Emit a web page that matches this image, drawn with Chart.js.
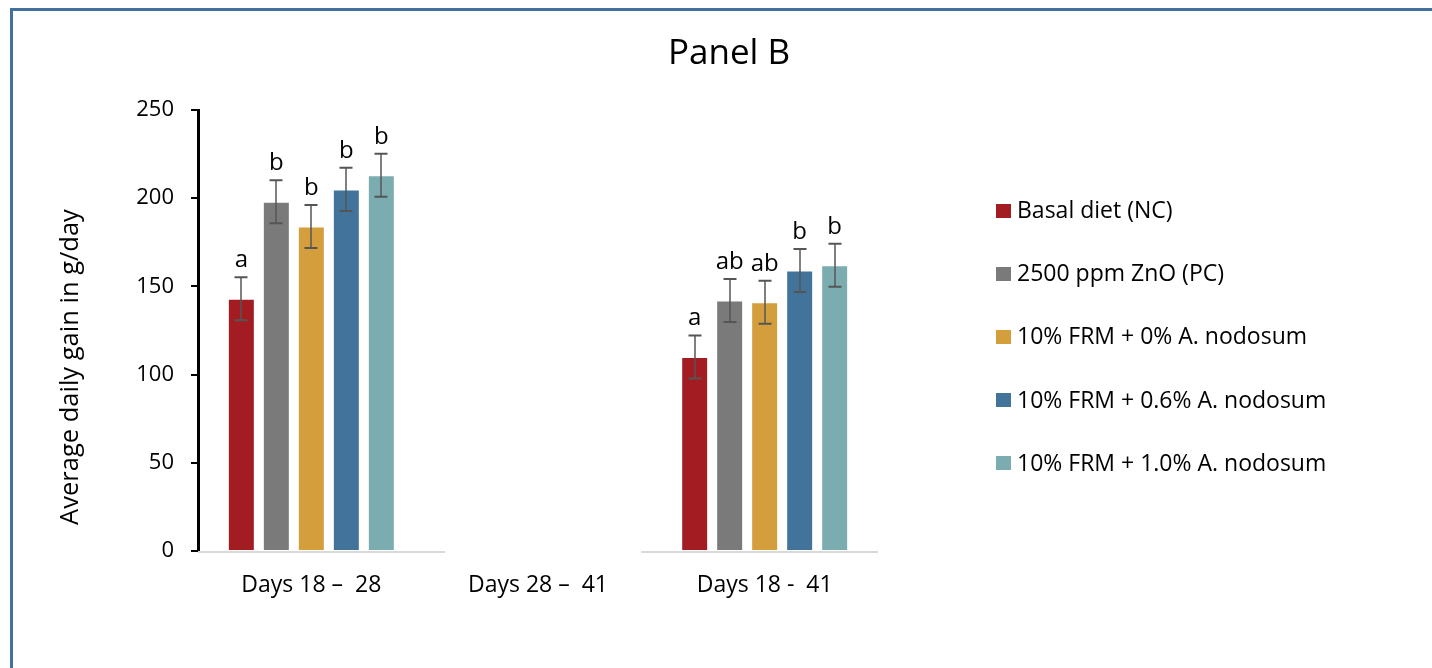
<!DOCTYPE html>
<html>
<head>
<meta charset="utf-8">
<title>Panel B – Average daily gain</title>
<script src="https://cdn.jsdelivr.net/npm/chart.js@4/dist/chart.umd.min.js"></script>
<style>
  html, body { margin: 0; padding: 0; background: #fff; overflow: hidden; }
  #frame {
    position: absolute; left: 10px; top: 8px; width: 1460px; height: 700px;
    border: 3px solid #41719C; box-sizing: border-box;
  }
  #wrap { position: absolute; left: 0; top: 0; width: 1432px; height: 668px; }
</style>
</head>
<body>
<div id="frame"></div>
<div id="wrap"><canvas id="c" width="1432" height="668"></canvas></div>
<script>
// Periods on the category axis
const periods = ['Days 18 \u2013  28', 'Days 28 \u2013  41', 'Days 18 -  41'];

// Treatment names
const treatments = [
  'Basal diet (NC)',
  '2500 ppm ZnO (PC)',
  '10% FRM + 0% A. nodosum',
  '10% FRM + 0.6% A. nodosum',
  '10% FRM + 1.0% A. nodosum'
];

// Average daily gain (g/day) per period
const adgBasal = [143, null, 110];
const adgZnO   = [198, null, 142];
const adgFrm0  = [184, null, 141];
const adgFrm06 = [205, null, 159];
const adgFrm10 = [213, null, 162];

// Standard errors per period
const semBasal = [12.2, null, 12.2];
const semZnO   = [12.2, null, 12.2];
const semFrm0  = [12.2, null, 12.2];
const semFrm06 = [12.2, null, 12.2];
const semFrm10 = [12.2, null, 12.2];

// Significance letters per period
const letBasal = ['a', '', 'a'];
const letZnO   = ['b', '', 'ab'];
const letFrm0  = ['b', '', 'ab'];
const letFrm06 = ['b', '', 'b'];
const letFrm10 = ['b', '', 'b'];

// Y axis ticks
const yTicks = { min: 0, max: 250, step: 50 };

const colors = ['#A31C22', '#7A7A7A', '#D49E3C', '#42749B', '#7BACB0'];
const FONT = "'Open Sans', sans-serif";

Chart.defaults.font.family = FONT;
Chart.defaults.color = '#000';

const series = [
  { values: adgBasal, sem: semBasal, letters: letBasal },
  { values: adgZnO,   sem: semZnO,   letters: letZnO },
  { values: adgFrm0,  sem: semFrm0,  letters: letFrm0 },
  { values: adgFrm06, sem: semFrm06, letters: letFrm06 },
  { values: adgFrm10, sem: semFrm10, letters: letFrm10 }
];

// Light baseline under the category axis, left open across the empty period
const baselinePlugin = {
  id: 'baseline',
  beforeDatasetsDraw(chart) {
    const { ctx, chartArea, scales: { x } } = chart;
    const y = chartArea.bottom + 1;
    const gapFrom = x.getPixelForValue(0.59);
    const gapTo = x.getPixelForValue(1.455);
    ctx.save();
    ctx.strokeStyle = '#D9D9D9';
    ctx.lineWidth = 2;
    ctx.beginPath();
    ctx.moveTo(chartArea.left, y); ctx.lineTo(gapFrom, y);
    ctx.moveTo(gapTo, y); ctx.lineTo(chartArea.right, y);
    ctx.stroke();
    ctx.restore();
  }
};

// Error bars and significance letters above each bar
const errorBarPlugin = {
  id: 'errorBars',
  afterDatasetsDraw(chart) {
    const { ctx, scales: { y } } = chart;
    ctx.save();
    chart.data.datasets.forEach((ds, di) => {
      const meta = chart.getDatasetMeta(di);
      meta.data.forEach((bar, i) => {
        const v = ds.data[i];
        const e = ds.sem[i];
        if (v == null || e == null) return;
        const x = Math.round(bar.x);
        const yTop = y.getPixelForValue(v + e);
        const yBot = y.getPixelForValue(v - e);
        ctx.strokeStyle = 'rgba(85,85,85,0.75)';
        ctx.lineWidth = 2;
        ctx.beginPath();
        ctx.moveTo(x, yTop); ctx.lineTo(x, yBot);
        ctx.stroke();
        ctx.strokeStyle = '#555';
        ctx.beginPath();
        ctx.moveTo(x - 6.5, yTop); ctx.lineTo(x + 6.5, yTop);
        ctx.moveTo(x - 6.5, yBot); ctx.lineTo(x + 6.5, yBot);
        ctx.stroke();
        const letter = ds.letters[i];
        if (letter) {
          ctx.fillStyle = '#000';
          ctx.font = '24px ' + FONT;
          ctx.textAlign = 'center';
          ctx.textBaseline = 'alphabetic';
          ctx.fillText(letter, bar.x, yTop - 10);
        }
      });
    });
    ctx.restore();
  }
};

// Panel title, value-axis title and the treatment key
const panelTextPlugin = {
  id: 'panelText',
  afterDraw(chart) {
    const { ctx } = chart;
    ctx.save();
    ctx.fillStyle = '#000';

    ctx.font = '35px ' + FONT;
    ctx.textAlign = 'center';
    ctx.textBaseline = 'alphabetic';
    ctx.fillText('Panel B', 729, 64);

    ctx.save();
    ctx.translate(78, 367);
    ctx.rotate(-Math.PI / 2);
    ctx.font = '25.5px ' + FONT;
    ctx.fillText('Average daily gain in g/day', 0, 0);
    ctx.restore();

    ctx.font = '23px ' + FONT;
    ctx.textAlign = 'left';
    ctx.textBaseline = 'middle';
    chart.data.datasets.forEach((ds, i) => {
      const cy = 210.5 + i * 63.2;
      ctx.fillStyle = ds.backgroundColor;
      ctx.fillRect(996, Math.round(cy - 7), 15, 14);
      ctx.fillStyle = '#000';
      ctx.fillText(ds.label, 1017, cy + 1);
    });
    ctx.restore();
  }
};

new Chart(document.getElementById('c'), {
  type: 'bar',
  data: {
    labels: periods,
    datasets: series.map((s, i) => ({
      label: treatments[i],
      data: s.values,
      sem: s.sem,
      letters: s.letters,
      backgroundColor: colors[i],
      borderColor: 'rgba(255,255,255,0.35)',
      borderWidth: 1,
      categoryPercentage: 0.772,
      barPercentage: 0.771
    }))
  },
  options: {
    responsive: false,
    animation: false,
    devicePixelRatio: 1,
    layout: { padding: { left: 100, top: 110, right: 554, bottom: 57 } },
    plugins: {
      legend: { display: false },
      title: { display: false },
      tooltip: { enabled: false }
    },
    scales: {
      x: {
        grid: { display: false },
        border: { display: false },
        ticks: { color: '#000', font: { size: 23 }, padding: 13, maxRotation: 0, autoSkip: false },
        afterFit(s) { s.height = 60; }
      },
      y: {
        min: yTicks.min,
        max: yTicks.max,
        ticks: { stepSize: yTicks.step, color: '#000', font: { size: 22 }, padding: 17 },
        grid: { drawOnChartArea: false, color: '#000', lineWidth: 2, tickLength: 7, tickWidth: 2 },
        border: { color: '#000', width: 3 },
        afterFit(s) { s.width = 98; }
      }
    }
  },
  plugins: [baselinePlugin, errorBarPlugin, panelTextPlugin]
});
</script>
</body>
</html>
